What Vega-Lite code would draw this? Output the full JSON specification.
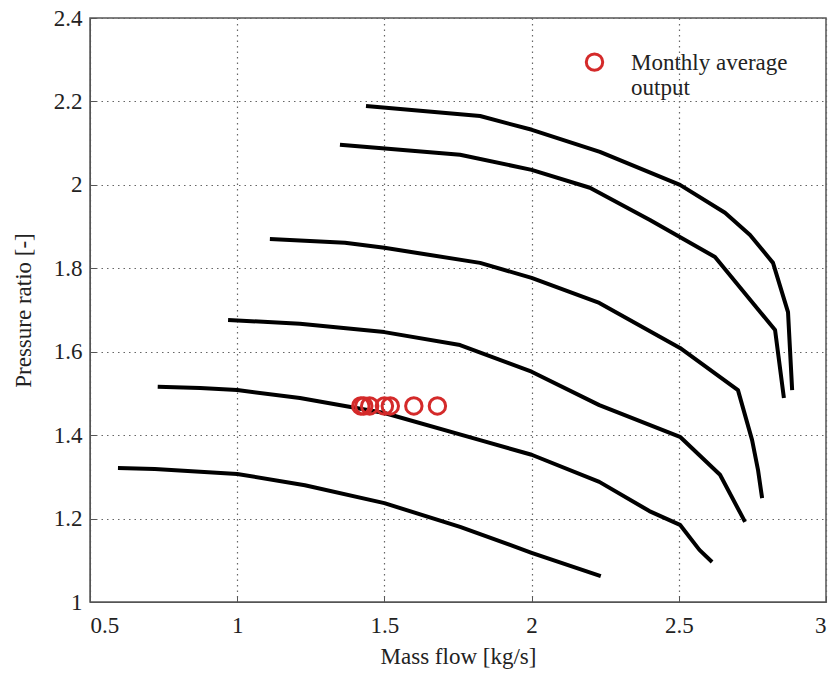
{
  "$schema": "https://vega.github.io/schema/vega-lite/v6.json",
  "width": 736,
  "height": 584,
  "autosize": "none",
  "padding": {"left": 90, "top": 18, "right": 14, "bottom": 75},
  "background": "white",
  "config": {
    "view": {"stroke": "#555", "strokeWidth": 1.5},
    "font": "'Liberation Serif', 'Times New Roman', serif",
    "axis": {
      "labelFont": "'Liberation Serif', 'Times New Roman', serif",
      "titleFont": "'Liberation Serif', 'Times New Roman', serif",
      "labelFontSize": 23,
      "titleFontSize": 23,
      "labelColor": "#222",
      "titleColor": "#222",
      "titleFontWeight": "normal",
      "domainColor": "#555",
      "tickColor": "#555",
      "tickSize": -6,
      "gridColor": "#666",
      "gridDash": [1.5, 4],
      "gridWidth": 1.2
    }
  },
  "datasets": {
    "curves": [
      {"curve": 1, "i": 1, "x": 0.595, "y": 1.321},
      {"curve": 1, "i": 2, "x": 0.72, "y": 1.319},
      {"curve": 1, "i": 3, "x": 1.0, "y": 1.307},
      {"curve": 1, "i": 4, "x": 1.23, "y": 1.28},
      {"curve": 1, "i": 5, "x": 1.5, "y": 1.237},
      {"curve": 1, "i": 6, "x": 1.757, "y": 1.18},
      {"curve": 1, "i": 7, "x": 2.0, "y": 1.118},
      {"curve": 1, "i": 8, "x": 2.235, "y": 1.062},
      {"curve": 2, "i": 1, "x": 0.73, "y": 1.516},
      {"curve": 2, "i": 2, "x": 0.874, "y": 1.513},
      {"curve": 2, "i": 3, "x": 1.0, "y": 1.508},
      {"curve": 2, "i": 4, "x": 1.213, "y": 1.489},
      {"curve": 2, "i": 5, "x": 1.5, "y": 1.453},
      {"curve": 2, "i": 6, "x": 1.825, "y": 1.388},
      {"curve": 2, "i": 7, "x": 2.0, "y": 1.353},
      {"curve": 2, "i": 8, "x": 2.23, "y": 1.288},
      {"curve": 2, "i": 9, "x": 2.4, "y": 1.218},
      {"curve": 2, "i": 10, "x": 2.504, "y": 1.185},
      {"curve": 2, "i": 11, "x": 2.57, "y": 1.125},
      {"curve": 2, "i": 12, "x": 2.613, "y": 1.096},
      {"curve": 3, "i": 1, "x": 0.969, "y": 1.676},
      {"curve": 3, "i": 2, "x": 1.213, "y": 1.667},
      {"curve": 3, "i": 3, "x": 1.5, "y": 1.647},
      {"curve": 3, "i": 4, "x": 1.757, "y": 1.616},
      {"curve": 3, "i": 5, "x": 2.0, "y": 1.552},
      {"curve": 3, "i": 6, "x": 2.23, "y": 1.472},
      {"curve": 3, "i": 7, "x": 2.504, "y": 1.396},
      {"curve": 3, "i": 8, "x": 2.64, "y": 1.305},
      {"curve": 3, "i": 9, "x": 2.725, "y": 1.192},
      {"curve": 4, "i": 1, "x": 1.111, "y": 1.87},
      {"curve": 4, "i": 2, "x": 1.366, "y": 1.861},
      {"curve": 4, "i": 3, "x": 1.5, "y": 1.849},
      {"curve": 4, "i": 4, "x": 1.825, "y": 1.813},
      {"curve": 4, "i": 5, "x": 2.0, "y": 1.777},
      {"curve": 4, "i": 6, "x": 2.23, "y": 1.717},
      {"curve": 4, "i": 7, "x": 2.504, "y": 1.609},
      {"curve": 4, "i": 8, "x": 2.701, "y": 1.508},
      {"curve": 4, "i": 9, "x": 2.749, "y": 1.388},
      {"curve": 4, "i": 10, "x": 2.769, "y": 1.317},
      {"curve": 4, "i": 11, "x": 2.783, "y": 1.249},
      {"curve": 5, "i": 1, "x": 1.349, "y": 2.096},
      {"curve": 5, "i": 2, "x": 1.757, "y": 2.072},
      {"curve": 5, "i": 3, "x": 2.0, "y": 2.036},
      {"curve": 5, "i": 4, "x": 2.198, "y": 1.993},
      {"curve": 5, "i": 5, "x": 2.402, "y": 1.916},
      {"curve": 5, "i": 6, "x": 2.623, "y": 1.827},
      {"curve": 5, "i": 7, "x": 2.827, "y": 1.652},
      {"curve": 5, "i": 8, "x": 2.857, "y": 1.489},
      {"curve": 6, "i": 1, "x": 1.4375, "y": 2.189},
      {"curve": 6, "i": 2, "x": 1.825, "y": 2.165},
      {"curve": 6, "i": 3, "x": 2.001, "y": 2.132},
      {"curve": 6, "i": 4, "x": 2.232, "y": 2.079},
      {"curve": 6, "i": 5, "x": 2.504, "y": 2.0},
      {"curve": 6, "i": 6, "x": 2.657, "y": 1.933},
      {"curve": 6, "i": 7, "x": 2.742, "y": 1.88},
      {"curve": 6, "i": 8, "x": 2.82, "y": 1.813},
      {"curve": 6, "i": 9, "x": 2.871, "y": 1.695},
      {"curve": 6, "i": 10, "x": 2.885, "y": 1.508}
    ],
    "points": [
      {"series": "Monthly average|output", "x": 1.42, "y": 1.47},
      {"series": "Monthly average|output", "x": 1.43, "y": 1.47},
      {"series": "Monthly average|output", "x": 1.45, "y": 1.47},
      {"series": "Monthly average|output", "x": 1.5, "y": 1.47},
      {"series": "Monthly average|output", "x": 1.52, "y": 1.47},
      {"series": "Monthly average|output", "x": 1.6, "y": 1.47},
      {"series": "Monthly average|output", "x": 1.68, "y": 1.47}
    ]
  },
  "layer": [
    {
      "data": {"name": "curves"},
      "mark": {"type": "line", "color": "black", "strokeWidth": 4, "strokeJoin": "round"},
      "encoding": {
        "x": {
          "field": "x", "type": "quantitative",
          "scale": {"domain": [0.5, 3], "nice": false, "zero": false},
          "axis": {"title": "Mass flow [kg/s]", "values": [0.5, 1, 1.5, 2, 2.5, 3], "format": "~g", "labelPadding": 18, "titlePadding": 8, "grid": true}
        },
        "y": {
          "field": "y", "type": "quantitative",
          "scale": {"domain": [1, 2.4], "nice": false, "zero": false},
          "axis": {"title": "Pressure ratio [-]", "values": [1, 1.2, 1.4, 1.6, 1.8, 2, 2.2, 2.4], "format": "~g", "labelPadding": 14, "titlePadding": 18, "grid": true}
        },
        "detail": {"field": "curve"},
        "order": {"field": "i"}
      }
    },
    {
      "data": {"name": "points"},
      "mark": {"type": "point", "shape": "circle", "filled": false, "size": 270, "strokeWidth": 3, "opacity": 1},
      "encoding": {
        "x": {"field": "x", "type": "quantitative"},
        "y": {"field": "y", "type": "quantitative"},
        "color": {
          "field": "series", "type": "nominal",
          "scale": {"range": ["#d42a2a"]},
          "legend": {
            "title": null,
            "orient": "none",
            "legendX": 493,
            "legendY": 40,
            "labelFont": "'Liberation Serif', 'Times New Roman', serif",
            "labelFontSize": 23,
            "labelColor": "#222",
            "labelOffset": 25,
            "labelLimit": 300,
            "labelBaseline": "alphabetic",
            "labelExpr": "split(datum.label, '|')",
            "symbolType": "M -1 -0.9 A 1 1 0 1 0 1 -0.9 A 1 1 0 1 0 -1 -0.9 Z",
            "symbolSize": 270,
            "symbolStrokeWidth": 3
          }
        }
      }
    }
  ]
}
